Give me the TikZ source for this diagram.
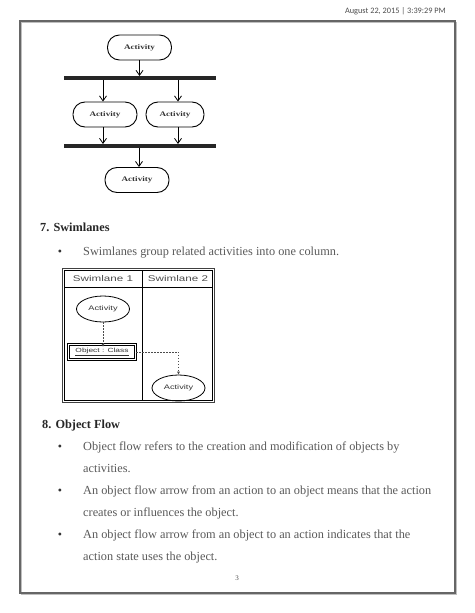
\documentclass[tikz,border=0pt]{standalone}
\usepackage{fontspec}
\setmainfont{Liberation Serif}
\newfontfamily\widesans[FakeStretch=1.4]{Liberation Sans}
\newfontfamily\wideserif[FakeStretch=1.3]{Liberation Serif}
\newfontfamily\calf{Carlito}
\usetikzlibrary{arrows.meta,shapes.geometric}
\begin{document}
\begin{tikzpicture}[x=1pt,y=-1pt,
  act/.style={draw,line width=0.9pt,rounded corners=12pt,minimum width=#1,minimum height=25pt,
    font=\wideserif\fontsize{7}{8}\selectfont\bfseries,text=black!80,inner sep=0pt},
  act/.default=64pt,
  slact/.style={draw,ellipse,line width=0.8pt,minimum width=53pt,minimum height=26pt,
    font=\widesans\fontsize{6.6}{7}\selectfont,text=black!80,inner sep=0pt},
  syncbar/.style={fill=black!85,minimum width=152pt,minimum height=3.6pt,inner sep=0pt},
  flow/.style={-{Straight Barb[length=5pt,width=7pt]},line width=0.8pt},
  oflow/.style={-{Latex[length=3pt,width=3pt]},dashed,dash pattern=on 1.5pt off 1.5pt,line width=0.5pt,draw=black!70},
  body/.style={font=\fontsize{12.3}{14}\selectfont,text=black!65,anchor=base west,inner sep=0pt},
  head/.style={font=\fontsize{12.3}{14}\selectfont\bfseries,text=black!85,anchor=base west,inner sep=0pt},
  bul/.style={font=\fontsize{12}{14}\selectfont,text=black!80,anchor=base,inner sep=0pt},
  lane/.style={font=\widesans\fontsize{8.3}{9}\selectfont,text=black!70,inner sep=0pt}
]
\useasboundingbox (0,0) rectangle (474,613);
% page frame
\draw[black!25,line width=1.2pt] (21.5,22.5) rectangle (456.5,594.5);
\draw[black!60,line width=1.4pt] (20,21) rectangle (455,593);
\node[font=\calf\fontsize{8.3}{9}\selectfont,text=black!70,anchor=east,inner sep=0pt] (date) at (446,11) {August 22, 2015 | 3:39:29 PM};

% fork/join activity diagram
\node[act] (a1) at (139.5,47.5) {Activity};
\node[syncbar] (b1) at (140,78) {};
\node[act] (a2) at (105,114.5) {Activity};
\node[act=58pt] (a3) at (175,114.5) {Activity};
\node[syncbar] (b2) at (140,146) {};
\node[act] (a4) at (137,180) {Activity};
\draw[flow] (a1) -- (a1 |- b1.north);
\draw[flow] (b1.south -| 103,0) -- (a2.north -| 103,0);
\draw[flow] (b1.south -| 178,0) -- (a3.north -| 178,0);
\draw[flow] (a2.south -| 103,0) -- (b2.north -| 103,0);
\draw[flow] (a3.south -| 178,0) -- (b2.north -| 178,0);
\draw[flow] (b2.south -| 139,0) -- (a4.north -| 139,0);

% 7. Swimlanes
\node[head] (h7) at (40,231.5) {7. Swimlanes};
\node[bul] (d1) at (60,255.5) {\textbullet};
\node[body] (t1) at (83,255.5) {Swimlanes group related activities into one column.};

% swimlane diagram
\node[draw,line width=0.7pt,minimum width=148pt,minimum height=130pt,inner sep=0pt] (frame) at (138.5,335.5) {};
\draw[line width=1.3pt,black!75] ([shift={(-1.8,-1.8)}]frame.north west) rectangle ([shift={(1.8,1.8)}]frame.south east);
\coordinate (hl) at (64.5,287);
\coordinate (hr) at (212.5,287);
\coordinate (vt) at (142,270.5);
\coordinate (vb) at (142,400.5);
\draw[line width=0.7pt] (hl) -- (hr);
\draw[line width=1pt] (vt) -- (vb);
\node[lane] (l1) at (103,278.5) {Swimlane 1};
\node[lane] (l2) at (178,278.5) {Swimlane 2};
\node[slact] (s1) at (103,309) {Activity};
\node[draw,line width=0.6pt,minimum width=65pt,minimum height=13pt,inner sep=0pt,
  font=\widesans\fontsize{6.0}{7}\selectfont,text=black!80] (obj) at (102,352) {\underline{Object : Class}};
\draw[line width=0.6pt] ([shift={(-1.6,-1.6)}]obj.north west) rectangle ([shift={(1.6,1.6)}]obj.south east);
\node[slact] (s2) at (178.5,388) {Activity};
\draw[oflow] (s1.south -| 103,0) -- ([yshift=-1.6pt]obj.north -| 103,0);
\draw[oflow] ([xshift=1.6pt]obj.east) -- (obj.east -| s2) -- (s2.north);

% 8. Object Flow
\node[head] (h8) at (42,428.5) {8. Object Flow};
\node[bul] (d2) at (60,450.5) {\textbullet};
\node[body] (t2) at (83,450.5) {Object flow refers to the creation and modification of objects by};
\node[body] (t3) at (83,472) {activities.};
\node[bul] (d3) at (60,494.5) {\textbullet};
\node[body] (t4) at (83,494.5) {An object flow arrow from an action to an object means that the action};
\node[body] (t5) at (83,516) {creates or influences the object.};
\node[bul] (d4) at (60,538.5) {\textbullet};
\node[body] (t6) at (83,538.5) {An object flow arrow from an object to an action indicates that the};
\node[body] (t7) at (83,560) {action state uses the object.};
\node[font=\fontsize{7}{8}\selectfont,text=black!70,inner sep=0pt] (pg) at (237,578) {3};
\end{tikzpicture}
\end{document}
